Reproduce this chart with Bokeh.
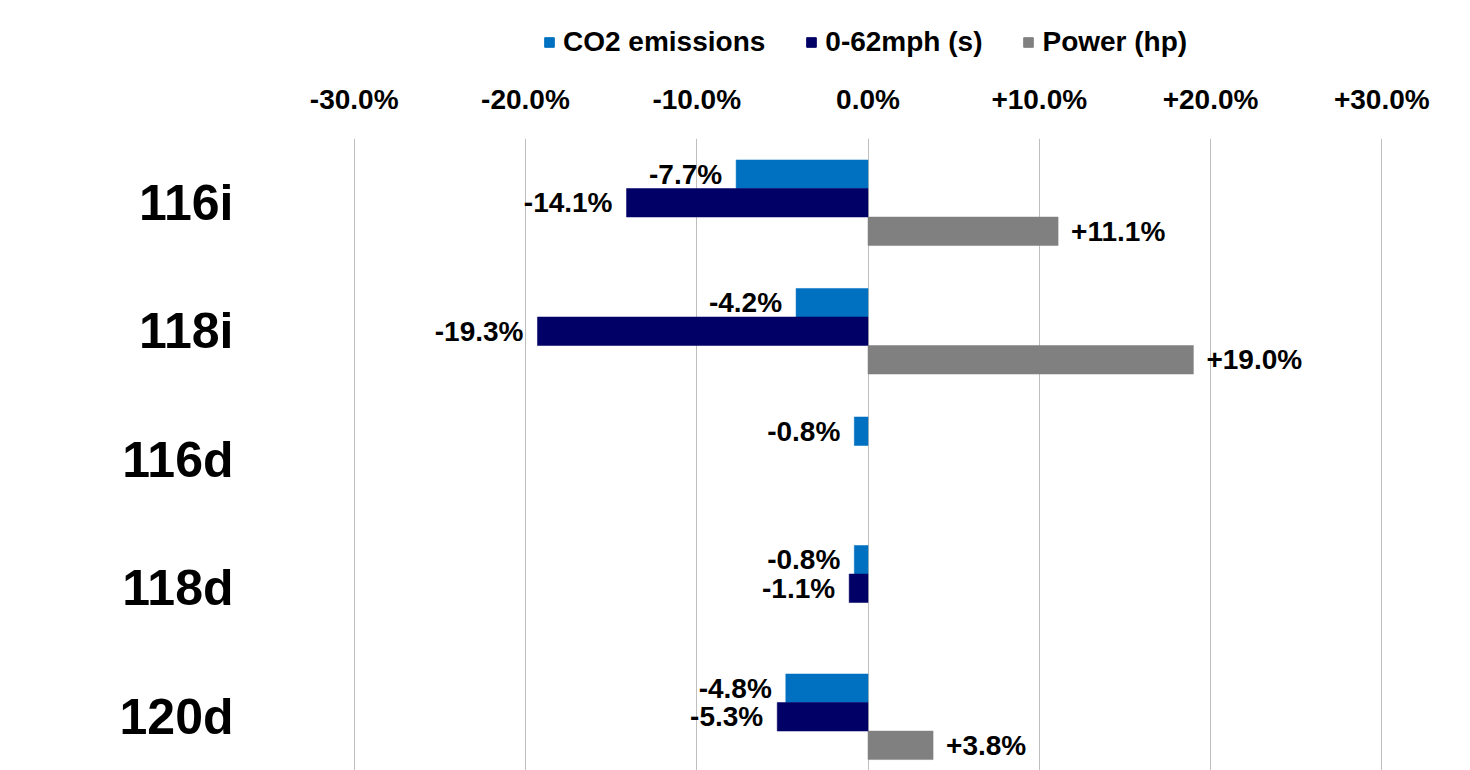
from bokeh.plotting import figure
from bokeh.layouts import column
from bokeh.models import Range1d, FixedTicker, ColumnDataSource, Legend, LegendItem
from bokeh.core.properties import value
from bokeh.embed import file_html
from bokeh.resources import INLINE

# ---- data ----
categories = ["116i", "118i", "116d", "118d", "120d"]
co2_emissions = [-7.7, -4.2, -0.8, -0.8, -4.8]
accel_0_62 = [-14.1, -19.3, None, -1.1, -5.3]
power_hp = [11.1, 19.0, None, None, 3.8]
series_names = ["CO2 emissions", "0-62mph (s)", "Power (hp)"]
series_colors = ["#0070C0", "#000066", "#808080"]
x_ticks = [-30, -20, -10, 0, 10, 20, 30]
x_tick_labels = ["-30.0%", "-20.0%", "-10.0%", "0.0%", "+10.0%", "+20.0%", "+30.0%"]

FONT = "Liberation Sans"
series_values = [co2_emissions, accel_0_62, power_hp]
offsets = [-0.222, 0.0, 0.222]
bar_h = 0.222

# ---- legend strip (its own view range is far from the data, so only the legend shows) ----
leg = figure(width=1470, height=70, output_backend="svg", toolbar_location=None,
             x_range=Range1d(1000, 1001), y_range=Range1d(1000, 1001),
             x_axis_location=None, y_axis_location=None,
             min_border_left=0, min_border_right=0, min_border_top=0, min_border_bottom=0)
leg.outline_line_color = None
leg.xgrid.grid_line_color = None
leg.ygrid.grid_line_color = None
leg.border_fill_color = "white"

# ---- main chart ----
p = figure(width=1470, height=700, output_backend="svg", toolbar_location=None,
           x_range=Range1d(-30.1, 30.1), y_range=Range1d(4.418, -0.5),
           x_axis_location="above", min_border_left=352, min_border_right=87,
           min_border_top=68, min_border_bottom=0)
p.outline_line_color = None
p.background_fill_color = "white"
p.border_fill_color = "white"

xa = p.xaxis[0]
xa.ticker = FixedTicker(ticks=x_ticks)
xa.major_label_overrides = {t: l for t, l in zip(x_ticks, x_tick_labels)}
xa.axis_line_color = None
xa.major_tick_line_color = None
xa.minor_tick_line_color = None
xa.major_tick_out = 0
xa.major_tick_in = 0
xa.major_label_standoff = 24
xa.major_label_text_font = FONT
xa.major_label_text_font_style = "bold"
xa.major_label_text_font_size = "28px"
xa.major_label_text_color = "black"

ya = p.yaxis[0]
ya.ticker = FixedTicker(ticks=list(range(len(categories))))
ya.major_label_overrides = {i: c for i, c in enumerate(categories)}
ya.axis_line_color = None
ya.major_tick_line_color = None
ya.minor_tick_line_color = None
ya.major_tick_out = 0
ya.major_tick_in = 0
ya.major_label_standoff = 119
ya.major_label_text_font = FONT
ya.major_label_text_font_style = "bold"
ya.major_label_text_font_size = "50px"
ya.major_label_text_color = "black"

p.xgrid.grid_line_color = "#BFBFBF"
p.xgrid.grid_line_width = 1
p.ygrid.grid_line_color = None

items = []
for name, vals, col, off in zip(series_names, series_values, series_colors, offsets):
    ys, xs = [], []
    for i, v in enumerate(vals):
        if v is not None:
            ys.append(i + off)
            xs.append(v)
    src = ColumnDataSource(dict(y=ys, v=xs))
    p.hbar(y="y", left=0, right="v", height=bar_h, source=src,
           fill_color=col, line_color=col, line_width=0.5)
    lr = leg.hbar(y="y", left=0, right="v", height=bar_h, source=src,
                  fill_color=col, line_color=col)
    items.append(LegendItem(label=name, renderers=[lr]))
    neg = ColumnDataSource(dict(y=[y for y, v in zip(ys, xs) if v < 0],
                                v=[v for v in xs if v < 0],
                                lab=[f"{v:+.1f}%" for v in xs if v < 0]))
    pos = ColumnDataSource(dict(y=[y for y, v in zip(ys, xs) if v >= 0],
                                v=[v for v in xs if v >= 0],
                                lab=[f"{v:+.1f}%" for v in xs if v >= 0]))
    p.text(x="v", y="y", text="lab", source=neg, x_offset=-14, text_align="right",
           text_baseline="middle", text_font=value(FONT), text_font_style="bold",
           text_font_size="28px", text_color="black")
    p.text(x="v", y="y", text="lab", source=pos, x_offset=13, text_align="left",
           text_baseline="middle", text_font=value(FONT), text_font_style="bold",
           text_font_size="28px", text_color="black")

legend = Legend(items=items, orientation="horizontal", location=(191, 12),
                label_text_font=FONT, label_text_font_style="bold",
                label_text_font_size="28px", label_text_color="black",
                glyph_width=12, glyph_height=12, label_standoff=8, spacing=40,
                border_line_color=None, background_fill_alpha=0,
                padding=5, margin=0)
leg.add_layout(legend, "center")

layout = column(leg, p, spacing=0)
open("out.html", "w").write(file_html(layout, INLINE))
